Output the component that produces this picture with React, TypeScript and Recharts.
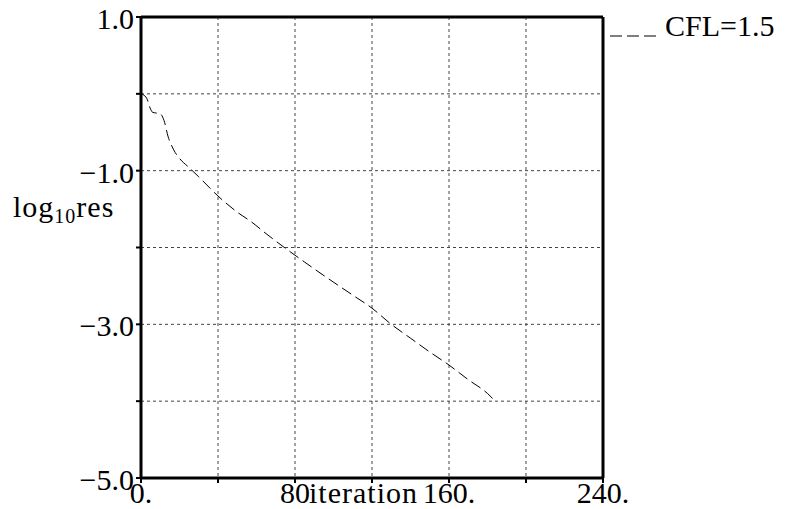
import { LineChart, Line, XAxis, YAxis, CartesianGrid, ReferenceLine } from 'recharts';

const iterations = [0, 1, 3, 5, 6, 8, 10, 12, 14, 17, 20, 25, 30, 40, 50, 57, 65, 75, 85, 97, 110, 120, 130, 140, 150, 160, 170, 180, 184];
const logRes = [0, -0.01, -0.06, -0.2, -0.24, -0.25, -0.26, -0.35, -0.55, -0.73, -0.84, -0.96, -1.08, -1.33, -1.54, -1.66, -1.82, -2.01, -2.19, -2.4, -2.62, -2.79, -3.0, -3.18, -3.36, -3.53, -3.72, -3.9, -4.0];

const xTicks = [0, 40, 80, 120, 160, 200, 240];
const yTicks = [-5, -4, -3, -2, -1, 0, 1];
const xTickLabels: Record<number, string> = { 0: '0.', 80: '80', 160: '160.', 240: '240.' };
const yTickLabels: Record<number, string> = { 1: '1.0', '-1': '\u22121.0', '-3': '\u22123.0', '-5': '\u22125.0' };

const seriesName = 'CFL=1.5';

const data = iterations.map((it, i) => ({ it, res: logRes[i] }));

const FONT = '"Liberation Serif", "DejaVu Serif", serif';

const XTick = (props: any) => {
    const { x, payload } = props;
    const label = xTickLabels[payload.value];
    if (!label) return null;
    return (
        <text x={x} y={503} textAnchor="middle" fontFamily={FONT} fontSize={30} fill="#000">
            {label}
        </text>
    );
};

const YTick = (props: any) => {
    const { y, payload } = props;
    const label = yTickLabels[payload.value];
    if (!label) return null;
    return (
        <text x={134} y={y + 12} textAnchor="end" fontFamily={FONT} fontSize={30} fill="#000">
            {label}
        </text>
    );
};

const YLabel = () => (
    <text x={13} y={217} fontFamily={FONT} fontSize={30} fill="#000" letterSpacing={1}>
        log
        <tspan fontSize={20} dy={6}>10</tspan>
        <tspan dy={-6}>res</tspan>
    </text>
);

const XLabel = () => (
    <text x={309} y={503} fontFamily={FONT} fontSize={30} fill="#000" letterSpacing={1}>
        iteration
    </text>
);

// legend drawn next to the top-right corner of the frame
const LegendMark = () => (
    <g>
        <line x1={610} y1={36} x2={657} y2={36} stroke="#000" strokeWidth={1} strokeDasharray="12 5" />
        <text x={665} y={36} fontFamily={FONT} fontSize={30} fill="#000">{seriesName}</text>
    </g>
);

export default function App() {
    return (
        <div style={{ position: 'absolute', left: 0, top: 0, width: 792, height: 509, background: '#fff' }}>
            <LineChart width={792} height={509} data={data} margin={{ top: 17, right: 189, left: 0, bottom: 0 }}>
                <CartesianGrid stroke="#444" strokeDasharray="3 3" strokeWidth={1} />
                <XAxis
                    dataKey="it"
                    type="number"
                    domain={[0, 240]}
                    ticks={xTicks}
                    height={31}
                    axisLine={{ stroke: '#000', strokeWidth: 3 }}
                    tickLine={{ stroke: '#000', strokeWidth: 2 }}
                    tickSize={5}
                    tick={<XTick />}
                    label={<XLabel />}
                    interval={0}
                />
                <YAxis
                    type="number"
                    domain={[-5, 1]}
                    ticks={yTicks}
                    width={141}
                    axisLine={{ stroke: '#000', strokeWidth: 3 }}
                    tickLine={{ stroke: '#000', strokeWidth: 2 }}
                    tickSize={5}
                    tick={<YTick />}
                    label={<YLabel />}
                    interval={0}
                />
                <ReferenceLine y={1} stroke="#000" strokeWidth={3} label={<LegendMark />} />
                <ReferenceLine x={240} stroke="#000" strokeWidth={3} />
                <Line
                    type="monotone"
                    dataKey="res"
                    name={seriesName}
                    stroke="#000"
                    strokeWidth={1}
                    strokeDasharray="11 5"
                    dot={false}
                    isAnimationActive={false}
                />
            </LineChart>
        </div>
    );
}
